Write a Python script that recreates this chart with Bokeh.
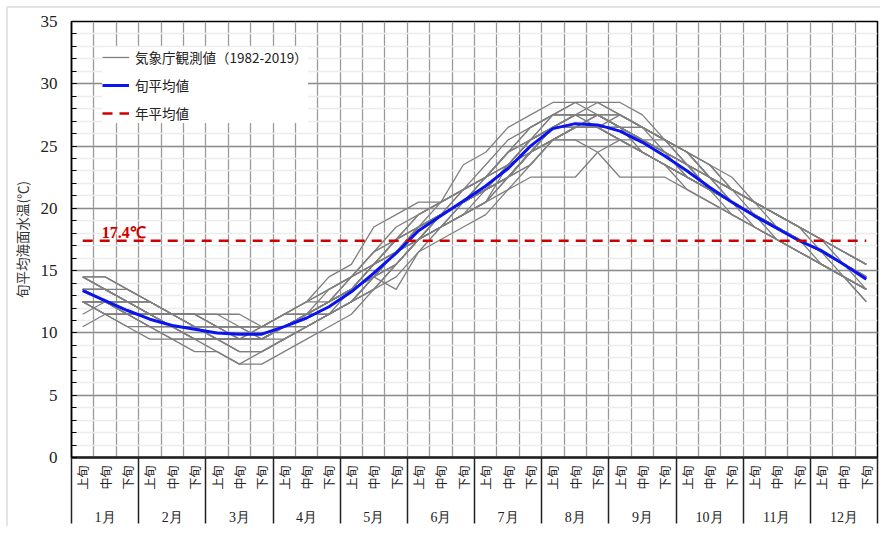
import math
from bokeh.plotting import figure
from bokeh.models import Range1d, FixedTicker, Legend, LegendItem, LinearAxis
from bokeh.embed import file_html
from bokeh.resources import INLINE
from bokeh.core.properties import value

# ---------------- data ----------------
months = ["1月", "2月", "3月", "4月", "5月", "6月", "7月", "8月", "9月", "10月", "11月", "12月"]
dekad_names = ["上旬", "中旬", "下旬"]
y_ticks = [0, 5, 10, 15, 20, 25, 30, 35]

# 旬平均値 (blue line), 36 dekads
mean_dekad = [13.4, 12.6, 11.8, 11.1, 10.6, 10.3, 10.0, 9.9, 9.9,
              10.5, 11.2, 12.1, 13.3, 14.8, 16.4, 18.2, 19.4, 20.6,
              21.8, 23.2, 25.0, 26.4, 26.8, 26.7, 26.2, 25.3, 24.2,
              23.0, 21.7, 20.5, 19.4, 18.4, 17.4, 16.6, 15.5, 14.3]

# 年平均値
annual_mean = 17.4

# 気象庁観測値 (grey lines, one per year, read approximately)
obs_a = [14.5, 14.5, 13.5, 12.5, 11.5, 11.5, 10.5, 10.5, 10.5, 11.5, 12.5, 13.5, 14.5, 16.5, 17.5, 19.5, 20.5, 21.5, 22.5, 24.5, 26.5, 27.5, 28.5, 28.5, 27.5, 26.5, 25.5, 24.5, 22.5, 21.5, 20.5, 19.5, 18.5, 17.5, 16.5, 15.5]
obs_b = [12.5, 11.5, 10.5, 10.5, 9.5, 8.5, 8.5, 7.5, 7.5, 8.5, 9.5, 10.5, 11.5, 13.5, 14.5, 16.5, 17.5, 18.5, 19.5, 21.5, 23.5, 25.5, 25.5, 25.5, 25.5, 24.5, 23.5, 21.5, 20.5, 19.5, 18.5, 17.5, 16.5, 15.5, 14.5, 13.5]
obs_c = [13.5, 13.5, 12.5, 11.5, 11.5, 10.5, 10.5, 9.5, 9.5, 10.5, 11.5, 12.5, 13.5, 15.5, 16.5, 18.5, 19.5, 20.5, 21.5, 23.5, 25.5, 26.5, 27.5, 27.5, 26.5, 25.5, 24.5, 23.5, 21.5, 20.5, 19.5, 18.5, 17.5, 16.5, 15.5, 14.5]
obs_d = [13.5, 12.5, 11.5, 11.5, 10.5, 10.5, 9.5, 9.5, 9.5, 10.5, 10.5, 11.5, 13.5, 14.5, 16.5, 17.5, 19.5, 20.5, 21.5, 22.5, 24.5, 26.5, 26.5, 26.5, 26.5, 25.5, 24.5, 22.5, 21.5, 20.5, 19.5, 18.5, 17.5, 16.5, 15.5, 14.5]
obs_e = [14.5, 13.5, 12.5, 11.5, 10.5, 10.5, 10.5, 9.5, 10.5, 11.5, 12.5, 13.5, 14.5, 15.5, 17.5, 18.5, 19.5, 21.5, 22.5, 24.5, 25.5, 27.5, 27.5, 26.5, 25.5, 24.5, 23.5, 22.5, 21.5, 20.5, 19.5, 18.5, 17.5, 16.5, 15.5, 14.5]
obs_f = [12.5, 12.5, 11.5, 10.5, 10.5, 9.5, 9.5, 9.5, 9.5, 10.5, 11.5, 11.5, 12.5, 14.5, 16.5, 17.5, 18.5, 19.5, 21.5, 22.5, 24.5, 25.5, 26.5, 27.5, 26.5, 25.5, 24.5, 23.5, 21.5, 20.5, 19.5, 18.5, 17.5, 16.5, 15.5, 13.5]
obs_g = [13.5, 12.5, 12.5, 11.5, 11.5, 10.5, 10.5, 10.5, 9.5, 10.5, 11.5, 12.5, 13.5, 14.5, 16.5, 18.5, 19.5, 20.5, 22.5, 23.5, 25.5, 26.5, 27.5, 27.5, 26.5, 26.5, 24.5, 23.5, 22.5, 21.5, 20.5, 19.5, 18.5, 16.5, 15.5, 14.5]
obs_h = [12.5, 11.5, 11.5, 10.5, 10.5, 10.5, 9.5, 9.5, 9.5, 9.5, 10.5, 11.5, 12.5, 13.5, 15.5, 17.5, 18.5, 19.5, 20.5, 21.5, 22.5, 22.5, 22.5, 24.5, 25.5, 24.5, 23.5, 22.5, 21.5, 20.5, 19.5, 18.5, 17.5, 16.5, 15.5, 14.5]
obs_i = [14.5, 14.5, 13.5, 12.5, 11.5, 10.5, 10.5, 10.5, 10.5, 10.5, 11.5, 12.5, 13.5, 15.5, 17.5, 18.5, 19.5, 20.5, 21.5, 23.5, 24.5, 25.5, 25.5, 24.5, 22.5, 22.5, 22.5, 21.5, 20.5, 19.5, 18.5, 17.5, 16.5, 15.5, 14.5, 13.5]
obs_j = [13.5, 12.5, 11.5, 11.5, 11.5, 11.5, 10.5, 10.5, 10.5, 11.5, 12.5, 12.5, 13.5, 14.5, 13.5, 16.5, 18.5, 20.5, 21.5, 22.5, 24.5, 26.5, 27.5, 28.5, 28.5, 27.5, 25.5, 24.5, 23.5, 21.5, 20.5, 19.5, 18.5, 17.5, 15.5, 14.5]
obs_k = [14.5, 13.5, 12.5, 12.5, 11.5, 11.5, 11.5, 10.5, 10.5, 11.5, 12.5, 14.5, 15.5, 18.5, 19.5, 20.5, 20.5, 23.5, 24.5, 26.5, 27.5, 28.5, 28.5, 28.5, 27.5, 26.5, 25.5, 24.5, 23.5, 22.5, 20.5, 19.5, 18.5, 17.5, 16.5, 15.5]
obs_l = [12.5, 12.5, 11.5, 10.5, 10.5, 9.5, 9.5, 8.5, 8.5, 9.5, 10.5, 11.5, 12.5, 14.5, 15.5, 17.5, 18.5, 19.5, 20.5, 22.5, 24.5, 26.5, 26.5, 26.5, 25.5, 24.5, 23.5, 22.5, 21.5, 19.5, 18.5, 17.5, 16.5, 15.5, 14.5, 12.5]
obs_m = [13.5, 12.5, 12.5, 11.5, 10.5, 10.5, 10.5, 10.5, 10.5, 10.5, 11.5, 12.5, 13.5, 15.5, 16.5, 18.5, 19.5, 21.5, 22.5, 24.5, 25.5, 26.5, 26.5, 26.5, 26.5, 25.5, 24.5, 23.5, 22.5, 20.5, 19.5, 18.5, 17.5, 16.5, 15.5, 14.5]
obs_n = [11.5, 12.5, 11.5, 11.5, 10.5, 10.5, 9.5, 9.5, 9.5, 10.5, 11.5, 11.5, 12.5, 14.5, 16.5, 18.5, 19.5, 20.5, 21.5, 23.5, 25.5, 27.5, 27.5, 27.5, 27.5, 26.5, 25.5, 23.5, 22.5, 21.5, 19.5, 18.5, 17.5, 16.5, 15.5, 14.5]
obs_o = [10.5, 11.5, 11.5, 10.5, 9.5, 9.5, 9.5, 8.5, 8.5, 9.5, 10.5, 11.5, 12.5, 14.5, 16.5, 17.5, 19.5, 20.5, 21.5, 22.5, 23.5, 25.5, 26.5, 26.5, 25.5, 24.5, 23.5, 22.5, 21.5, 20.5, 19.5, 18.5, 17.5, 16.5, 14.5, 13.5]
obs_p = [12.5, 12.5, 12.5, 11.5, 11.5, 11.5, 10.5, 9.5, 9.5, 10.5, 11.5, 12.5, 14.5, 15.5, 17.5, 18.5, 19.5, 20.5, 22.5, 24.5, 26.5, 27.5, 27.5, 27.5, 26.5, 25.5, 24.5, 23.5, 21.5, 20.5, 19.5, 18.5, 17.5, 16.5, 15.5, 14.5]
obs_q = [13.5, 13.5, 12.5, 12.5, 11.5, 11.5, 11.5, 11.5, 10.5, 11.5, 11.5, 12.5, 13.5, 15.5, 17.5, 19.5, 20.5, 21.5, 22.5, 23.5, 25.5, 26.5, 26.5, 27.5, 26.5, 25.5, 24.5, 23.5, 22.5, 21.5, 20.5, 19.5, 18.5, 17.5, 16.5, 15.5]
obs_r = [12.5, 11.5, 10.5, 9.5, 9.5, 9.5, 8.5, 7.5, 8.5, 9.5, 10.5, 11.5, 12.5, 13.5, 15.5, 17.5, 18.5, 19.5, 20.5, 22.5, 24.5, 25.5, 26.5, 26.5, 25.5, 24.5, 23.5, 22.5, 21.5, 20.5, 18.5, 17.5, 16.5, 15.5, 14.5, 12.5]
obs_s = [13.5, 13.5, 13.5, 12.5, 11.5, 10.5, 9.5, 9.5, 9.5, 10.5, 11.5, 12.5, 14.5, 16.5, 18.5, 19.5, 20.5, 21.5, 23.5, 25.5, 26.5, 27.5, 28.5, 27.5, 26.5, 25.5, 25.5, 24.5, 22.5, 21.5, 20.5, 19.5, 18.5, 17.5, 16.5, 15.5]
obs_t = [12.5, 12.5, 11.5, 11.5, 10.5, 10.5, 10.5, 10.5, 10.5, 10.5, 11.5, 12.5, 13.5, 14.5, 16.5, 17.5, 19.5, 20.5, 21.5, 22.5, 24.5, 25.5, 26.5, 26.5, 26.5, 26.5, 25.5, 24.5, 22.5, 21.5, 20.5, 18.5, 17.5, 16.5, 15.5, 14.5]
obs_u = [13.5, 13.5, 12.5, 11.5, 10.5, 9.5, 9.5, 9.5, 10.5, 10.5, 11.5, 13.5, 14.5, 16.5, 17.5, 18.5, 20.5, 21.5, 22.5, 23.5, 25.5, 26.5, 26.5, 26.5, 25.5, 25.5, 24.5, 22.5, 21.5, 20.5, 19.5, 18.5, 17.5, 15.5, 14.5, 13.5]
obs_v = [14.5, 13.5, 12.5, 12.5, 11.5, 11.5, 10.5, 10.5, 9.5, 10.5, 10.5, 11.5, 12.5, 13.5, 15.5, 17.5, 19.5, 20.5, 21.5, 22.5, 24.5, 25.5, 26.5, 26.5, 27.5, 26.5, 25.5, 24.5, 23.5, 21.5, 20.5, 19.5, 18.5, 17.5, 16.5, 15.5]
obs_w = [12.5, 11.5, 11.5, 11.5, 10.5, 9.5, 9.5, 9.5, 9.5, 10.5, 11.5, 12.5, 13.5, 14.5, 15.5, 17.5, 18.5, 19.5, 20.5, 23.5, 24.5, 26.5, 27.5, 27.5, 27.5, 26.5, 25.5, 23.5, 22.5, 20.5, 19.5, 17.5, 16.5, 15.5, 14.5, 13.5]
obs_x = [13.5, 12.5, 12.5, 11.5, 11.5, 10.5, 10.5, 10.5, 10.5, 11.5, 11.5, 12.5, 13.5, 15.5, 16.5, 17.5, 18.5, 20.5, 21.5, 22.5, 23.5, 25.5, 26.5, 26.5, 26.5, 24.5, 23.5, 22.5, 21.5, 20.5, 19.5, 18.5, 17.5, 16.5, 15.5, 14.5]
obs_series = [obs_a, obs_b, obs_c, obs_d, obs_e, obs_f, obs_g, obs_h, obs_i, obs_j, obs_k, obs_l,
              obs_m, obs_n, obs_o, obs_p, obs_q, obs_r, obs_s, obs_t, obs_u, obs_v, obs_w, obs_x]

# ---------------- figure ----------------
n_dekad = len(mean_dekad)
x_centers = [i + 0.5 for i in range(n_dekad)]
month_bounds = [3 * m for m in range(len(months) + 1)]
month_centers = [3 * m + 1.5 for m in range(len(months))]

CJK = "Noto Sans CJK JP"
SERIF = "Liberation Serif"

SEP_LEN = 66  # month separator length below the axis (px)

p = figure(width=874, height=520, x_range=Range1d(0, n_dekad), y_range=Range1d(0, 35),
           output_backend="svg", toolbar_location=None,
           min_border_left=59, min_border_right=5, min_border_top=13, min_border_bottom=71,
           background_fill_color="white", border_fill_color="white",
           outline_line_color="black", outline_line_width=1.5,
           margin=(6, 0, 0, 6),
           styles={"border-left": "2px solid #e4e4e4", "border-top": "2px solid #e4e4e4"})

# x axis 1: dekad labels (上旬/中旬/下旬) + month separators (minor ticks)
xa = p.xaxis[0]
xa.ticker = FixedTicker(ticks=x_centers, minor_ticks=month_bounds)
xa.major_label_overrides = {x: dekad_names[i % 3] for i, x in enumerate(x_centers)}
xa.major_label_orientation = math.pi / 2
xa.major_label_text_font = CJK
xa.major_label_text_font_size = "12px"
xa.major_label_text_color = "#222222"
xa.major_label_standoff = 8 - SEP_LEN
xa.major_tick_out = 0
xa.major_tick_in = 0
xa.minor_tick_in = 0
xa.minor_tick_out = SEP_LEN
xa.minor_tick_line_color = "#222222"
xa.minor_tick_line_width = 1.5
xa.axis_line_width = 2.5
xa.axis_line_color = "#222222"

# x axis 2: month labels
xm = LinearAxis(ticker=FixedTicker(ticks=month_centers),
                major_label_overrides={x: months[i] for i, x in enumerate(month_centers)})
xm.axis_line_color = None
xm.major_tick_line_color = None
xm.minor_tick_line_color = None
xm.major_tick_out = 0
xm.major_tick_in = 0
xm.major_label_standoff = 17
xm.major_label_text_font = SERIF
xm.major_label_text_font_size = "14px"
xm.major_label_text_color = "#222222"
p.add_layout(xm, "below")

# y axis
p.yaxis.ticker = FixedTicker(ticks=y_ticks, minor_ticks=list(range(36)))
p.yaxis.major_tick_in = 5
p.yaxis.major_tick_out = 0
p.yaxis.minor_tick_in = 5
p.yaxis.minor_tick_out = 0
p.yaxis.axis_line_width = 1.5
p.yaxis.axis_line_color = "black"
p.yaxis.major_tick_line_color = "black"
p.yaxis.minor_tick_line_color = "black"
p.yaxis.major_label_text_font = SERIF
p.yaxis.major_label_text_font_size = "17px"
p.yaxis.major_label_text_color = "#222222"
p.yaxis.major_label_standoff = 14
p.yaxis.axis_label = "旬平均海面水温(℃)"
p.yaxis.axis_label_text_font = CJK
p.yaxis.axis_label_text_font_size = "13.5px"
p.yaxis.axis_label_text_font_style = "normal"
p.yaxis.axis_label_text_color = "#333333"
p.yaxis.axis_label_standoff = 6

# grids
p.xgrid.ticker = FixedTicker(ticks=list(range(n_dekad + 1)))
p.xgrid.grid_line_color = "#9a9a9a"
p.xgrid.grid_line_width = 1.3
p.ygrid.ticker = FixedTicker(ticks=y_ticks, minor_ticks=list(range(36)))
p.ygrid.grid_line_color = "#8c8c8c"
p.ygrid.grid_line_width = 1.5
p.ygrid.minor_grid_line_color = "#ececec"
p.ygrid.minor_grid_line_width = 1.5

gray_r = p.multi_line(xs=[x_centers] * len(obs_series), ys=obs_series,
                      line_color="#7f7f7f", line_width=1.3)
mean_r = p.line(x_centers, mean_dekad, line_color="#0a14f0", line_width=3)
annual_r = p.line(x_centers, [annual_mean] * n_dekad, line_color="#d00000",
                  line_width=2.5, line_dash="10 7")

p.text(x=[1.35], y=[annual_mean], text=[f"{annual_mean}℃"],
       text_font=value(SERIF), text_font_style="bold", text_font_size="16px",
       text_color="#cc0000", text_align="left", text_baseline="alphabetic", y_offset=-8)

legend = Legend(items=[
    LegendItem(label="気象庁観測値（1982-2019）", renderers=[gray_r]),
    LegendItem(label="旬平均値", renderers=[mean_r]),
    LegendItem(label="年平均値", renderers=[annual_r]),
], location=(31, 334))
legend.label_text_font = CJK
legend.label_text_font_size = "13.5px"
legend.label_text_color = "#222222"
legend.border_line_color = None
legend.background_fill_color = "white"
legend.background_fill_alpha = 1.0
legend.glyph_width = 27
legend.glyph_height = 18
legend.label_height = 18
legend.spacing = 8
legend.padding = 8
legend.margin = 0
legend.label_standoff = 6
p.add_layout(legend)

open("out.html", "w").write(file_html(p, INLINE))
